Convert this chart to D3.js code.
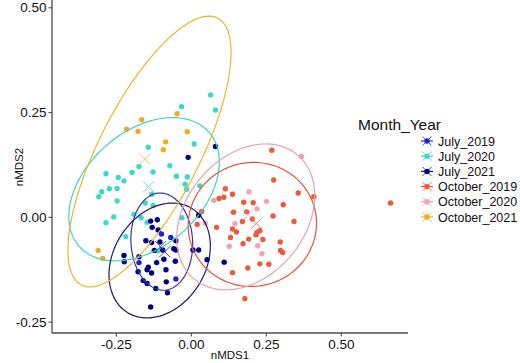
<!DOCTYPE html>
<html>
<head>
<meta charset="utf-8">
<script src="https://cdn.jsdelivr.net/npm/d3@7"></script>
<style>
  body { margin: 0; background: #fff; }
  text { font-family: "Liberation Sans", Arial, sans-serif; }
</style>
</head>
<body>
<div id="container"></div>
<script>
// groups, in legend order
var groups = ["July_2019", "July_2020", "July_2021", "October_2019", "October_2020", "October_2021"];
var groupColors = ["#1f1fd6", "#3dd8c8", "#000080", "#ec5a3c", "#f0a3b3", "#f4aa1f"];
var lineColors = ["#3434c8", "#3fd2c4", "#1a1a70", "#e2553b", "#eaa0ae", "#ebb52e"];

// nMDS scores (nMDS1, nMDS2)
var july2019 = [[-0.098,-0.041],[-0.067,-0.049],[-0.173,-0.109],[-0.050,-0.148]];
var july2020 = [[0.066,0.291],[0.082,0.255],[-0.031,0.263],[0.011,0.174],[-0.142,0.166],[-0.173,0.120],
  [-0.196,0.106],[-0.126,0.107],[-0.070,0.122],[-0.283,0.103],[-0.242,0.094],[-0.223,0.086],[-0.048,0.097],
  [-0.012,0.095],[-0.297,0.060],[-0.272,0.067],[-0.246,0.068],[-0.307,0.048],[-0.246,0.038],[-0.019,0.078],
  [-0.014,0.066],[-0.130,0.054],[-0.152,0.033],[-0.126,0.027],[-0.257,0.000],[-0.283,-0.014],[-0.190,0.006],
  [-0.166,-0.002],[-0.146,-0.013],[-0.030,-0.002],[-0.217,-0.047],[-0.109,-0.081],[0.030,0.074]];
var july2021 = [[0.082,0.168],[-0.009,0.142],[0.026,0.004],[-0.134,-0.010],[-0.112,-0.007],[-0.129,-0.025],
  [-0.109,-0.031],[-0.150,-0.057],[-0.131,-0.061],[-0.103,-0.060],[-0.050,-0.057],[-0.122,-0.080],[-0.094,-0.079],
  [-0.057,-0.076],[-0.050,-0.079],[-0.223,-0.092],[-0.222,-0.107],[-0.173,-0.095],[-0.114,-0.109],[-0.090,-0.101],
  [-0.052,-0.106],[-0.142,-0.120],[-0.146,-0.126],[-0.131,-0.134],[-0.176,-0.131],[-0.083,-0.126],[-0.159,-0.152],
  [-0.146,-0.159],[-0.117,-0.171],[-0.082,-0.155],[-0.078,-0.181],[-0.134,-0.215],[0.007,-0.079],[0.026,-0.079],
  [0.054,-0.102],[0.111,-0.108]];
var october2019 = [[0.270,0.159],[0.276,0.088],[0.358,0.057],[0.410,0.048],[0.115,0.067],[0.139,0.054],
  [0.094,0.044],[0.110,0.047],[0.176,0.035],[0.208,0.034],[0.308,0.029],[0.142,0.011],[0.186,0.012],[0.274,0.002],
  [0.205,-0.005],[0.172,-0.011],[0.344,-0.011],[0.021,-0.018],[0.036,0.013],[0.086,-0.025],[0.139,-0.029],
  [0.152,-0.036],[0.221,-0.037],[0.230,-0.033],[0.217,-0.043],[0.132,-0.049],[0.193,-0.053],[0.240,-0.054],
  [0.298,-0.060],[0.174,-0.064],[0.299,-0.080],[0.306,-0.085],[0.230,-0.112],[0.260,-0.113],[0.190,-0.122],
  [0.139,-0.133],[0.180,-0.195],[0.666,0.033]];
var october2020 = [[0.369,0.144],[0.194,0.060],[0.076,0.039],[0.252,0.037],[0.221,0.019],[0.147,-0.016],
  [0.048,-0.015],[0.128,-0.070],[0.223,-0.069],[0.237,-0.088]];
var october2021 = [[-0.046,0.246],[-0.164,0.232],[-0.214,0.209],[-0.176,0.204],[-0.012,0.203],[-0.084,0.179],
  [-0.092,0.160],[-0.309,-0.080],[-0.294,-0.099]];
var groupPoints = [july2019, july2020, july2021, october2019, october2020, october2021];

// group centroids (the X marks)
var centroidX = [-0.101, -0.141, -0.087, 0.218, 0.191, -0.154];
var centroidY = [-0.071, 0.072, -0.083, -0.016, 0.005, 0.138];

// 95% ellipses: centre, half extent in x and y, and tilt (correlation)
var ellipseCx = [-0.097, -0.156, -0.104, 0.205, 0.183, -0.138];
var ellipseCy = [-0.059, 0.066, -0.104, -0.018, 0.000, 0.156];
var ellipseXr = [0.103, 0.251, 0.169, 0.214, 0.230, 0.272];
var ellipseYr = [0.116, 0.171, 0.137, 0.148, 0.174, 0.323];
var ellipseTilt = [-0.05, 0.38, 0.25, 0.02, 0.29, 0.73];

var xTicks = [-0.25, 0, 0.25, 0.5];
var yTicks = [-0.25, 0, 0.25, 0.5];

var W = 520, H = 363;
var panel = {left: 52, right: 408, top: 1, bottom: 333};

var svg = d3.select("#container").append("svg")
  .attr("width", W).attr("height", H);

var x = d3.scaleLinear().domain([-0.463, 0.724]).range([panel.left, panel.right]);
var y = d3.scaleLinear().domain([-0.277, 0.515]).range([panel.bottom, panel.top]);

// points
groupPoints.forEach(function(pts, gi) {
  svg.append("g").selectAll("circle")
    .data(pts).enter()
    .append("circle")
      .attr("cx", function(d) { return x(d[0]); })
      .attr("cy", function(d) { return y(d[1]); })
      .attr("r", 2.7)
      .style("fill", groupColors[gi]);
});

// ellipses
var line = d3.line().x(function(d) { return x(d[0]); }).y(function(d) { return y(d[1]); });
groups.forEach(function(g, i) {
  var path = d3.range(0, 101).map(function(k) {
    var t = k / 100 * 2 * Math.PI;
    var r = ellipseTilt[i];
    return [ellipseCx[i] + ellipseXr[i] * Math.cos(t),
            ellipseCy[i] + ellipseYr[i] * (r * Math.cos(t) + Math.sqrt(1 - r * r) * Math.sin(t))];
  });
  svg.append("path")
    .attr("d", line(path))
    .style("fill", "none")
    .style("stroke", lineColors[i])
    .style("stroke-width", 1.2);
});

// centroid crosses
groups.forEach(function(g, i) {
  var cx = x(centroidX[i]), cy = y(centroidY[i]), s = 5.5;
  svg.append("path")
    .attr("d", "M" + (cx - s) + "," + (cy - s) + "L" + (cx + s) + "," + (cy + s) +
               "M" + (cx - s) + "," + (cy + s) + "L" + (cx + s) + "," + (cy - s))
    .style("stroke", lineColors[i])
    .style("stroke-width", 1)
    .style("opacity", 0.75);
});

// axes
var xAxis = svg.append("g")
  .attr("transform", "translate(0," + panel.bottom + ")")
  .call(d3.axisBottom(x).tickValues(xTicks).tickFormat(d3.format(".2f")).tickSize(3.5).tickPadding(3).tickSizeOuter(0));
var yAxis = svg.append("g")
  .attr("transform", "translate(" + panel.left + ",0)")
  .call(d3.axisLeft(y).tickValues(yTicks).tickFormat(d3.format(".2f")).tickSize(3.5).tickPadding(2).tickSizeOuter(0));

[xAxis, yAxis].forEach(function(a) {
  a.select(".domain").style("stroke", "#4d4d4d").style("stroke-width", 1.3);
  a.selectAll(".tick line").style("stroke", "#4d4d4d").style("stroke-width", 1.1);
  a.selectAll(".tick text")
    .style("font-size", "13.5px")
    .style("fill", "#111")
    .style("font-family", "Liberation Sans, Arial, sans-serif");
});
// d3 uses a unicode minus; the chart uses a hyphen
svg.selectAll(".tick text").text(function(d) { return d3.format(".2f")(d).replace("\u2212", "-"); });
// keep the full axis lines from panel edge to edge
xAxis.select(".domain").attr("d", "M" + panel.left + ",0H" + panel.right);
yAxis.select(".domain").attr("d", "M0,0V" + panel.bottom);

// axis titles
svg.append("text")
  .attr("x", (panel.left + panel.right) / 2)
  .attr("y", 359)
  .style("text-anchor", "middle")
  .style("font-size", "11.5px")
  .style("fill", "#111")
  .text("nMDS1");

svg.append("text")
  .attr("transform", "translate(23," + (panel.top + panel.bottom) / 2 + ") rotate(-90)")
  .style("text-anchor", "middle")
  .style("font-size", "11.5px")
  .style("fill", "#111")
  .text("nMDS2");

// legend
svg.append("text")
  .attr("x", 358)
  .attr("y", 130)
  .style("font-size", "15.5px")
  .style("fill", "#111")
  .text("Month_Year");

var legend = svg.selectAll(".legend")
  .data(groups).enter()
  .append("g")
    .attr("class", "legend")
    .attr("transform", function(d, i) { return "translate(427," + (141 + i * 15.2) + ")"; });

legend.append("line")
  .attr("x1", -6).attr("x2", 6)
  .style("stroke", function(d, i) { return lineColors[i]; })
  .style("stroke-width", 1.2);
legend.append("path")
  .attr("d", "M-4.5,-4.5L4.5,4.5M-4.5,4.5L4.5,-4.5")
  .style("stroke", function(d, i) { return lineColors[i]; })
  .style("stroke-width", 1)
  .style("opacity", 0.8);
legend.append("circle")
  .attr("r", 2.7)
  .style("fill", function(d, i) { return groupColors[i]; });
legend.append("text")
  .attr("x", 11)
  .attr("y", 4.6)
  .style("font-size", "12.5px")
  .style("fill", "#111")
  .text(function(d) { return d; });
</script>
</body>
</html>
